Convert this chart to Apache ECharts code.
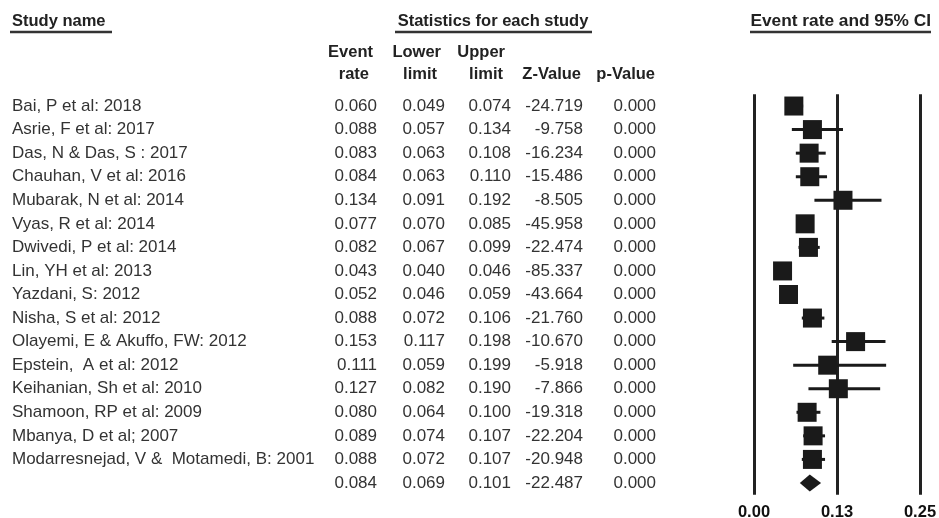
<!DOCTYPE html>
<html><head><meta charset="utf-8">
<script src="https://cdn.jsdelivr.net/npm/echarts@6/dist/echarts.min.js"></script>
<style>html,body{margin:0;padding:0;background:#fff}#c{width:939px;height:518px}</style>
</head><body><div id="c"></div>
<script>
const studies = ["Bai, P et al: 2018","Asrie, F et al: 2017","Das, N & Das, S : 2017","Chauhan, V et al: 2016","Mubarak, N et al: 2014","Vyas, R et al: 2014","Dwivedi, P et al: 2014","Lin, YH et al: 2013","Yazdani, S: 2012","Nisha, S et al: 2012","Olayemi, E & Akuffo, FW: 2012","Epstein,  A et al: 2012","Keihanian, Sh et al: 2010","Shamoon, RP et al: 2009","Mbanya, D et al; 2007","Modarresnejad, V &  Motamedi, B: 2001"];
const eventRate = [0.060,0.088,0.083,0.084,0.134,0.077,0.082,0.043,0.052,0.088,0.153,0.111,0.127,0.080,0.089,0.088];
const lowerLimit = [0.049,0.057,0.063,0.063,0.091,0.070,0.067,0.040,0.046,0.072,0.117,0.059,0.082,0.064,0.074,0.072];
const upperLimit = [0.074,0.134,0.108,0.110,0.192,0.085,0.099,0.046,0.059,0.106,0.198,0.199,0.190,0.100,0.107,0.107];
const zValue = [-24.719,-9.758,-16.234,-15.486,-8.505,-45.958,-22.474,-85.337,-43.664,-21.760,-10.670,-5.918,-7.866,-19.318,-22.204,-20.948];
const pValue = [0,0,0,0,0,0,0,0,0,0,0,0,0,0,0,0];
const summary = {rate:0.084, lower:0.069, upper:0.101, z:-22.487, p:0.000};
const xTicks = [0, 0.125, 0.25];
const xTickLabels = ["0.00","0.13","0.25"];

const rowCount = studies.length + 1;
const rowIdx = Array.from({length: rowCount}, (_, i) => i);
const FONT = '"Liberation Sans", Arial, sans-serif';
const colRight = [377, 445, 511, 583, 656];

const tableRows = studies.map((s, i) => [i, s, eventRate[i], lowerLimit[i], upperLimit[i], zValue[i], pValue[i]]);
tableRows.push([studies.length, '', summary.rate, summary.lower, summary.upper, summary.z, summary.p]);

const chart = echarts.init(document.getElementById('c'), null, {renderer: 'canvas'});

const hdr = (text, x, y, align, size) => ({type:'text', x, y, style:{text, font:'bold ' + (size || 16.5) + 'px ' + FONT, fill:'#222', textAlign:align, textVerticalAlign:'middle'}});
const uline = (x1, x2, y) => ({type:'line', shape:{x1, y1:y, x2, y2:y}, style:{stroke:'#333', lineWidth:2.5}});

chart.setOption({
  animation: false,
  grid: {left: 754, width: 166, top: 94.25, height: 400.5, containLabel: false, outerBoundsMode: 'none'},
  xAxis: {
    type: 'value', min: 0, max: 0.25, interval: 0.125,
    axisLine: {show: false}, axisTick: {show: false},
    splitLine: {show: true, lineStyle: {color: '#222', width: 3}},
    axisLabel: {
      margin: 9, fontFamily: FONT, fontSize: 16.5, fontWeight: 'bold', color: '#111',
      formatter: v => { const k = xTicks.findIndex(t => Math.abs(t - v) < 1e-9); return k >= 0 ? xTickLabels[k] : ''; }
    }
  },
  yAxis: {type: 'category', data: rowIdx, inverse: true, show: false},
  graphic: [
    hdr('Study name', 12, 21, 'left'), uline(10, 112, 32),
    hdr('Statistics for each study', 493, 21, 'center'), uline(395, 592, 32),
    hdr('Event rate and 95% CI', 931, 21, 'right', 17.3), uline(750, 931, 32),
    hdr('Event', 373, 52, 'right'), hdr('rate', 369, 74, 'right'),
    hdr('Lower', 441, 52, 'right'), hdr('limit', 437, 74, 'right'),
    hdr('Upper', 505, 52, 'right'), hdr('limit', 503, 74, 'right'),
    hdr('Z-Value', 581, 74, 'right'), hdr('p-Value', 655, 74, 'right')
  ],
  series: [
    {
      type: 'custom', name: 'table', z: 5, silent: true,
      data: tableRows,
      renderItem: (params, api) => {
        const r = tableRows[params.dataIndex];
        const y = api.coord([0, r[0]])[1];
        const st = (text, x, align) => ({type:'text', x, y, style:{text, font:'17px ' + FONT, fill:'#333', textAlign:align, textVerticalAlign:'middle'}});
        return {type:'group', children:[
          st(r[1], 12, 'left'),
          st(r[2].toFixed(3), colRight[0], 'right'),
          st(r[3].toFixed(3), colRight[1], 'right'),
          st(r[4].toFixed(3), colRight[2], 'right'),
          st(r[5].toFixed(3), colRight[3], 'right'),
          st(r[6].toFixed(3), colRight[4], 'right')
        ]};
      }
    },
    {
      type: 'custom', name: 'forest', z: 10, silent: true, clip: false,
      data: studies.map((s, i) => [i, eventRate[i], lowerLimit[i], upperLimit[i]]),
      renderItem: (params, api) => {
        const i = api.value(0);
        const c = api.coord([api.value(1), i]);
        const lo = api.coord([api.value(2), i]);
        const hi = api.coord([api.value(3), i]);
        const s = 19;
        return {type:'group', children:[
          {type:'line', shape:{x1:lo[0], y1:c[1], x2:hi[0], y2:c[1]}, style:{stroke:'#1a1a1a', lineWidth:3}},
          {type:'rect', shape:{x:c[0]-s/2, y:c[1]-s/2, width:s, height:s}, style:{fill:'#1a1a1a'}}
        ]};
      }
    },
    {
      type: 'custom', name: 'summary', z: 10, silent: true, clip: false,
      data: [[studies.length, summary.rate, summary.lower, summary.upper]],
      renderItem: (params, api) => {
        const i = api.value(0);
        const c = api.coord([api.value(1), i]);
        const lo = api.coord([api.value(2), i]);
        const hi = api.coord([api.value(3), i]);
        const h = 8.5;
        return {type:'polygon', shape:{points:[[lo[0], c[1]], [c[0], c[1]-h], [hi[0], c[1]], [c[0], c[1]+h]]}, style:{fill:'#1a1a1a'}};
      }
    }
  ]
});
</script>
</body></html>
